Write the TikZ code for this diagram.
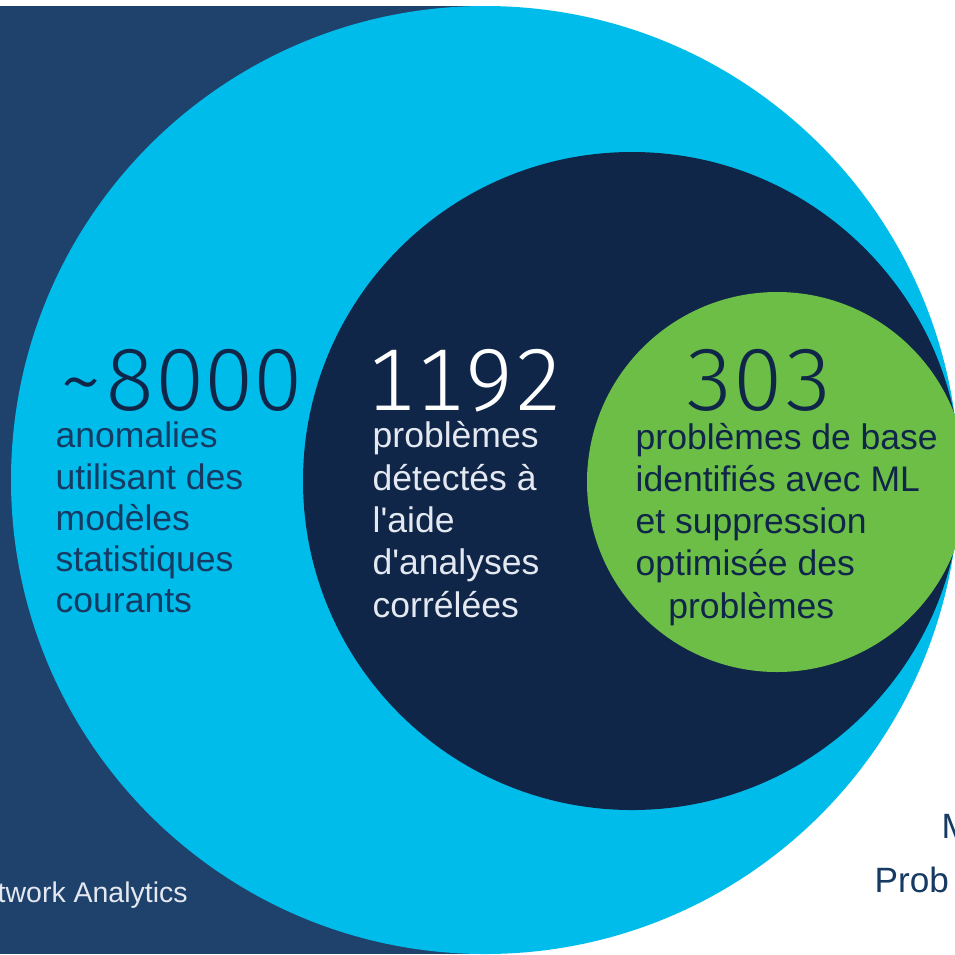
\documentclass[tikz,border=0pt]{standalone}
\usepackage{fontspec}
\setmainfont{Liberation Sans}
\newfontfamily\numfont[Numbers=Monospaced]{Fira Sans Light}

\definecolor{navyback}{RGB}{31,66,108}
\definecolor{skyblue}{RGB}{0,188,235}
\definecolor{midnight}{RGB}{15,38,73}
\definecolor{leafgreen}{RGB}{108,190,70}
\definecolor{inktext}{RGB}{22,58,98}
\definecolor{paletext}{RGB}{228,232,240}

\tikzset{
  bignum/.style={anchor=base west, inner sep=0pt, text depth=0pt, font=\numfont\fontsize{25}{25}\selectfont},
  blurb/.style={anchor=base west, inner sep=0pt, align=left, font=\fontsize{10.1}{11.95}\selectfont},
  edgetxt/.style={anchor=base west, inner sep=0pt},
}

\begin{document}
\begin{tikzpicture}[x=0.01cm,y=-0.01cm]
    \useasboundingbox (0,0) rectangle (955,954);
    \clip (0,0) rectangle (955,954);
    % backdrop and the three circles
    \fill[navyback] (0,6) rectangle (490,954);
    \fill[skyblue] (485,480) circle (474);
    \fill[midnight] (632,481) circle (329);
    \fill[leafgreen] (777,482) circle (190);

    % outer circle (base anchor = last line)
    \node[bignum, text=midnight] (n8000) at (56,410) {\textasciitilde8000};
    \node[blurb, text=inktext, font=\fontsize{10.1}{11.66}\selectfont] (t8000) at (55,612) {anomalies\\utilisant des\\modèles\\statistiques\\courants};

    % middle circle
    \node[bignum, text=white] (n1192) at (366,410) {1192};
    \node[blurb, text=paletext, font=\fontsize{10.1}{12.02}\selectfont] (t1192) at (372,617) {problèmes\\détectés à\\l\textquotesingle aide\\d\textquotesingle analyses\\corrélées};

    % green circle
    \node[bignum, text=midnight] (n303) at (684,410) {303};
    \node[blurb, text=midnight] (t303) at (635,618) {problèmes de base\\identifiés avec ML\\et suppression\\optimisée des\\\hspace{9.3pt}problèmes};

    % cut off labels at the edges
    \node[edgetxt, text=paletext, font=\fontsize{8.1}{9}\selectfont] (netw) at (-3,902) {twork Analytics};
    \node[edgetxt, text=inktext, font=\fontsize{10}{12}\selectfont] (mlabel) at (941,838) {M};
    \node[edgetxt, text=inktext, font=\fontsize{10}{12}\selectfont] (problabel) at (874,892) {Prob};
\end{tikzpicture}
\end{document}
